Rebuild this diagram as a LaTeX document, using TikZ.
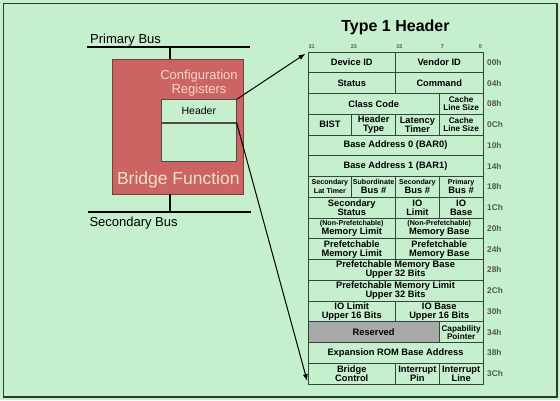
\documentclass[tikz,border=0pt]{standalone}
\usepackage{fontspec}
\setmainfont{Liberation Sans}
\usetikzlibrary{arrows.meta,positioning}
\definecolor{bg}{HTML}{C6EFCE}
\definecolor{frm}{HTML}{2E3A30}
\definecolor{brg}{HTML}{CD6464}
\definecolor{cfg}{HTML}{F2D6CC}
\definecolor{bfn}{HTML}{E8E2C8}
\definecolor{tbl}{HTML}{34463A}
\definecolor{rsv}{HTML}{A9A9A9}
\definecolor{ofs}{HTML}{555555}
\newcommand{\smt}[1]{{\fontsize{7.1}{7.5}\selectfont #1}}

\begin{document}
\begin{tikzpicture}[x=1pt,y=-1pt,
    cell/.style={draw=tbl,line width=0.7pt,minimum height=20.75pt,inner sep=0pt,outer sep=0pt,align=center,font=\bfseries\fontsize{9.3}{9}\selectfont},
    w1/.style={cell,minimum width=43.75pt},
    w2/.style={cell,minimum width=87.5pt},
    w3/.style={cell,minimum width=131.25pt},
    w4/.style={cell,minimum width=175pt},
    mid/.style={font=\bfseries\fontsize{8.2}{8}\selectfont},
    ofl/.style={anchor=west,xshift=4pt,inner sep=0pt,text=ofs,font=\bfseries\fontsize{8.3}{8}\selectfont},
    bit/.style={inner sep=0pt,text=ofs,font=\bfseries\fontsize{5.5}{5.5}\selectfont},
    bus/.style={line width=1.6pt},
    arr/.style={-{Latex[length=7pt,width=5pt]},line width=1pt,shorten >=3pt},
]
\useasboundingbox (0,0) rectangle (560,400);
\fill[bg] (0,0) rectangle (560,400);
\draw[frm,line width=1.5pt] (3.5,3.5) rectangle (557,397);

% Left: bridge between the two buses
\node[anchor=base west,inner sep=0pt,font=\fontsize{13}{13}\selectfont] (pbl) at (90,43.7) {Primary Bus};
\coordinate (pb1) at (87,47);
\coordinate (pb2) at (250,47);
\coordinate (pbt) at (170,47);
\draw[bus] (pb1) -- (pb2);

\node[draw=brg!60!black,line width=0.4pt,fill=brg,minimum width=130.4pt,minimum height=134.7pt,inner sep=0pt] (brdg) at (177.5,126.35) {};
\node[align=center,text=cfg,font=\fontsize{13}{14}\selectfont,inner sep=0pt] (cfgr) at (199,83) {Configuration\\Registers};
\node[draw=black!70,line width=0.6pt,fill=bg,minimum width=75pt,minimum height=22.6pt,inner sep=0pt,font=\fontsize{10.5}{10.5}\selectfont] (hdr) at (198.8,111) {Header};
\node[draw=black!70,line width=0.6pt,fill=bg,minimum width=75pt,minimum height=38pt,inner sep=0pt,below=0pt of hdr] (regs) {};
\node[anchor=base,inner sep=0pt,text=bfn,font=\fontsize{17.5}{17.5}\selectfont] (bfun) at (178.3,184.3) {Bridge Function};

\coordinate (sb1) at (88,212);
\coordinate (sb2) at (251,212);
\coordinate (sbt) at (170,212);
\draw[bus] (sb1) -- (sb2);
\node[anchor=base west,inner sep=0pt,font=\fontsize{13}{13}\selectfont] (sbl) at (89.3,226.3) {Secondary Bus};

\draw[bus] (pbt) -- (pbt |- brdg.north);
\draw[bus] (sbt) -- (sbt |- brdg.south);

% Right: Type 1 header layout
\node[anchor=base,inner sep=0pt,font=\bfseries\fontsize{16}{16}\selectfont] (ttl) at (395.5,31) {Type 1 Header};

\begin{scope}[shift={(308,52)},x=43.75pt,y=-20.75pt]
\node[bit] (b31) at (0.085,-0.25) {31};
\node[bit] (b23) at (1.05,-0.25) {23};
\node[bit] (b15) at (2.09,-0.25) {15};
\node[bit] (b7) at (3.07,-0.25) {7};
\node[bit] (b0) at (3.94,-0.25) {0};

\node[w2] (dev) at (1,0.5) {Device ID};
\node[w2] (ven) at (3,0.5) {Vendor ID};
\node[w2] (sts) at (1,1.5) {Status};
\node[w2] (cmd) at (3,1.5) {Command};
\node[w3] (cls) at (1.5,2.5) {Class Code};
\node[w1,mid] (cls1) at (3.5,2.5) {Cache\\Line Size};
\node[w1] (bist) at (0.5,3.5) {BIST};
\node[w1] (htyp) at (1.5,3.5) {Header\\Type};
\node[w1] (ltim) at (2.5,3.5) {Latency\\Timer};
\node[w1,mid] (cls2) at (3.5,3.5) {Cache\\Line Size};
\node[w4] (bar0) at (2,4.5) {Base Address 0 (BAR0)};
\node[w4] (bar1) at (2,5.5) {Base Address 1 (BAR1)};
\node[w1] (slat) at (0.5,6.5) {\smt{Secondary}\\\smt{Lat Timer}};
\node[w1] (subn) at (1.5,6.5) {\smt{Subordinate}\\Bus \#};
\node[w1] (secn) at (2.5,6.5) {\smt{Secondary}\\Bus \#};
\node[w1] (prin) at (3.5,6.5) {\smt{Primary}\\Bus \#};
\node[w2] (ssts) at (1,7.5) {Secondary\\Status};
\node[w1] (iolm) at (2.5,7.5) {IO\\Limit};
\node[w1] (iobs) at (3.5,7.5) {IO\\Base};
\node[w2] (npml) at (1,8.5) {\smt{(Non-Prefetchable)}\\Memory Limit};
\node[w2] (npmb) at (3,8.5) {\smt{(Non-Prefetchable)}\\Memory Base};
\node[w2] (pml) at (1,9.5) {Prefetchable\\Memory Limit};
\node[w2] (pmb) at (3,9.5) {Prefetchable\\Memory Base};
\node[w4] (pmbu) at (2,10.5) {Prefetchable Memory Base\\Upper 32 Bits};
\node[w4] (pmlu) at (2,11.5) {Prefetchable Memory Limit\\Upper 32 Bits};
\node[w2] (iolu) at (1,12.5) {IO Limit\\Upper 16 Bits};
\node[w2] (iobu) at (3,12.5) {IO Base\\Upper 16 Bits};
\node[w3,fill=rsv] (rsvd) at (1.5,13.5) {Reserved};
\node[w1,mid] (capp) at (3.5,13.5) {Capability\\Pointer};
\node[w4] (rom) at (2,14.5) {Expansion ROM Base Address};
\node[w2] (bctl) at (1,15.5) {Bridge\\Control};
\node[w1] (ipin) at (2.5,15.5) {Interrupt\\Pin};
\node[w1] (ilin) at (3.5,15.5) {Interrupt\\Line};

% offsets
\node[ofl] (o00) at (4,0.5) {00h};
\node[ofl] (o04) at (4,1.5) {04h};
\node[ofl] (o08) at (4,2.5) {08h};
\node[ofl] (o0C) at (4,3.5) {0Ch};
\node[ofl] (o10) at (4,4.5) {10h};
\node[ofl] (o14) at (4,5.5) {14h};
\node[ofl] (o18) at (4,6.5) {18h};
\node[ofl] (o1C) at (4,7.5) {1Ch};
\node[ofl] (o20) at (4,8.5) {20h};
\node[ofl] (o24) at (4,9.5) {24h};
\node[ofl] (o28) at (4,10.5) {28h};
\node[ofl] (o2C) at (4,11.5) {2Ch};
\node[ofl] (o30) at (4,12.5) {30h};
\node[ofl] (o34) at (4,13.5) {34h};
\node[ofl] (o38) at (4,14.5) {38h};
\node[ofl] (o3C) at (4,15.5) {3Ch};
\end{scope}

% Arrows from the header box to the layout
\draw[arr] (hdr.north east) -- (dev.north west);
\draw[arr] (hdr.south east) -- (bctl.south west);
\end{tikzpicture}
\end{document}
